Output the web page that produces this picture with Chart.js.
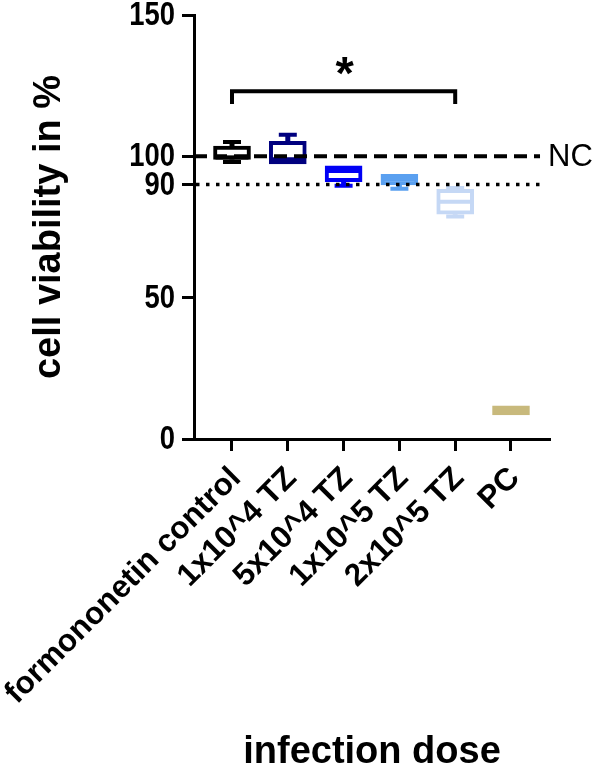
<!DOCTYPE html>
<html>
<head>
<meta charset="utf-8">
<script src="https://cdn.jsdelivr.net/npm/chart.js@4.4.1/dist/chart.umd.min.js"></script>
<style>
  html, body { margin: 0; padding: 0; background: #fff; }
  #wrap { width: 597px; height: 770px; }
</style>
</head>
<body>
<div id="wrap"><canvas id="grafico"></canvas></div>
<script>
// Box plot values (min / q1 / median / q3 / max)
const categorias = ['formononetin control', '1x10^4 TZ', '5x10^4 TZ', '1x10^5 TZ', '2x10^5 TZ', 'PC'];
const minimos  = [98.0, 97.3, 89.6, 88.5, 78.7, 8.5];
const q1       = [98.9, 97.3, 91.0, 89.9, 79.5, 8.5];
const medianas = [99.6, 99.0, 94.8, 91.8, 83.9, 10.1];
const q3       = [103.6, 105.3, 96.6, 93.6, 88.3, 11.7];
const maximos  = [105.1, 107.6, 96.6, 93.6, 88.8, 11.7];
const colores  = ['#000000', '#00007f', '#0000f5', '#5aa0f0', '#c5d8f5', '#c8b97c'];

const yTicks = [0, 50, 90, 100, 150];
const lineaNC = 100;      // dashed reference line
const lineaCorte = 90;    // dotted reference line
const comparacion = [0, 4]; // significance bracket between these groups
const nivelBracket = 123;
const finBracket = 118.5;

const cajasPlugin = {
    id: 'cajas',
    afterDatasetsDraw(chart) {
        const ctx = chart.ctx;
        const x = chart.scales.x;
        const y = chart.scales.y;
        const mitad = 18.5;
        const cap = 9;
        ctx.save();
        categorias.forEach((c, i) => {
            const px = x.getPixelForValue(i);
            ctx.strokeStyle = colores[i];
            // whiskers
            ctx.lineWidth = 5;
            ctx.beginPath();
            if (maximos[i] > q3[i]) {
                ctx.moveTo(px, y.getPixelForValue(q3[i]));
                ctx.lineTo(px, y.getPixelForValue(maximos[i]));
            }
            if (minimos[i] < q1[i]) {
                ctx.moveTo(px, y.getPixelForValue(q1[i]));
                ctx.lineTo(px, y.getPixelForValue(minimos[i]));
            }
            ctx.stroke();
            ctx.lineWidth = 4;
            ctx.beginPath();
            if (maximos[i] > q3[i]) {
                ctx.moveTo(px - cap, y.getPixelForValue(maximos[i]));
                ctx.lineTo(px + cap, y.getPixelForValue(maximos[i]));
            }
            if (minimos[i] < q1[i]) {
                ctx.moveTo(px - cap, y.getPixelForValue(minimos[i]));
                ctx.lineTo(px + cap, y.getPixelForValue(minimos[i]));
            }
            // median
            ctx.moveTo(px - mitad + 2, y.getPixelForValue(medianas[i]));
            ctx.lineTo(px + mitad - 2, y.getPixelForValue(medianas[i]));
            ctx.stroke();
        });
        ctx.restore();
    },
    afterDraw(chart) {
        const ctx = chart.ctx;
        const x = chart.scales.x;
        const y = chart.scales.y;
        const area = chart.chartArea;
        const finLinea = x.getPixelForValue(5.52);
        ctx.save();
        ctx.strokeStyle = '#000';
        ctx.fillStyle = '#000';

        // y tick labels, condensed like the original
        ctx.font = 'bold 33px "Liberation Sans", Arial, sans-serif';
        ctx.textAlign = 'right';
        ctx.textBaseline = 'middle';
        yTicks.forEach(v => {
            ctx.save();
            ctx.translate(area.left - 19, y.getPixelForValue(v) + 1);
            ctx.scale(0.83, 1);
            ctx.fillText(String(v), 0, 0);
            ctx.restore();
        });

        // NC dashed line
        ctx.lineWidth = 4;
        ctx.setLineDash([13, 7]);
        ctx.beginPath();
        ctx.moveTo(area.left, y.getPixelForValue(lineaNC));
        ctx.lineTo(finLinea, y.getPixelForValue(lineaNC));
        ctx.stroke();

        // 90 % dotted line
        ctx.lineWidth = 3.5;
        ctx.setLineDash([3.5, 6.5]);
        ctx.beginPath();
        ctx.moveTo(area.left + 2, y.getPixelForValue(lineaCorte));
        ctx.lineTo(finLinea + 4, y.getPixelForValue(lineaCorte));
        ctx.stroke();
        ctx.setLineDash([]);

        ctx.font = '31px "Liberation Sans", Arial, sans-serif';
        ctx.textAlign = 'left';
        ctx.textBaseline = 'middle';
        ctx.fillText('NC', finLinea + 8, y.getPixelForValue(lineaNC) + 1);

        // significance bracket
        const xa = x.getPixelForValue(comparacion[0]);
        const xb = x.getPixelForValue(comparacion[1]);
        const ya = y.getPixelForValue(nivelBracket);
        const yb = y.getPixelForValue(finBracket);
        ctx.lineWidth = 4;
        ctx.beginPath();
        ctx.moveTo(xa, yb);
        ctx.lineTo(xa, ya);
        ctx.lineTo(xb, ya);
        ctx.lineTo(xb, yb);
        ctx.stroke();
        ctx.font = 'bold 47px "Liberation Sans", Arial, sans-serif';
        ctx.textAlign = 'center';
        ctx.textBaseline = 'alphabetic';
        ctx.fillText('*', (xa + xb) / 2 + 1, ya - 2);
        ctx.restore();
    }
};

const ctx = document.getElementById('grafico').getContext('2d');
new Chart(ctx, {
    type: 'bar',
    data: {
        datasets: [{
            data: categorias.map((c, i) => ({ x: i, y: [q1[i], q3[i]] })),
            backgroundColor: categorias.map((c, i) => i === 5 ? colores[i] : '#ffffff'),
            borderColor: colores,
            borderWidth: 4,
            borderSkipped: false,
            barThickness: 37
        }]
    },
    options: {
        responsive: true,
        maintainAspectRatio: false,
        animation: false,
        layout: { padding: { top: 15, right: 47, left: 0, bottom: 0 } },
        plugins: {
            legend: { display: false },
            tooltip: { enabled: false }
        },
        scales: {
            x: {
                type: 'linear',
                offset: false,
                min: -0.681,
                max: 5.699,
                afterBuildTicks: (s) => { s.ticks = categorias.map((c, i) => ({ value: i })); },
                afterFit: (s) => { s.height = 331; s.paddingLeft = 0; s.paddingRight = 0; },
                ticks: {
                    autoSkip: false,
                    minRotation: 45,
                    maxRotation: 45,
                    padding: 9,
                    labelOffset: 4,
                    color: '#000',
                    font: { family: '"Liberation Sans", Arial, sans-serif', size: 31.5, weight: 'bold' },
                    callback: (v) => categorias[v]
                },
                grid: { offset: false, drawOnChartArea: false, drawTicks: true, tickLength: 12, tickWidth: 3, tickColor: '#000' },
                border: { display: true, color: '#000', width: 3 },
                title: {
                    display: true,
                    text: 'infection dose',
                    color: '#000',
                    padding: 0,
                    font: { family: '"Liberation Sans", Arial, sans-serif', size: 38, weight: 'bold', lineHeight: 0.9 }
                }
            },
            y: {
                min: 0,
                max: 150,
                afterBuildTicks: (s) => { s.ticks = yTicks.map(v => ({ value: v })); },
                afterFit: (s) => { s.width = 194; s.paddingTop = 0; s.paddingBottom = 0; },
                ticks: { display: false },
                grid: { drawOnChartArea: false, drawTicks: true, tickLength: 12, tickWidth: 3, tickColor: '#000' },
                border: { display: true, color: '#000', width: 3 },
                title: {
                    display: true,
                    text: 'cell viability in %',
                    color: '#000',
                    padding: { top: 27, bottom: 0 },
                    font: { family: '"Liberation Sans", Arial, sans-serif', size: 38, weight: 'bold' }
                }
            }
        }
    },
    plugins: [cajasPlugin]
});
</script>
</body>
</html>
